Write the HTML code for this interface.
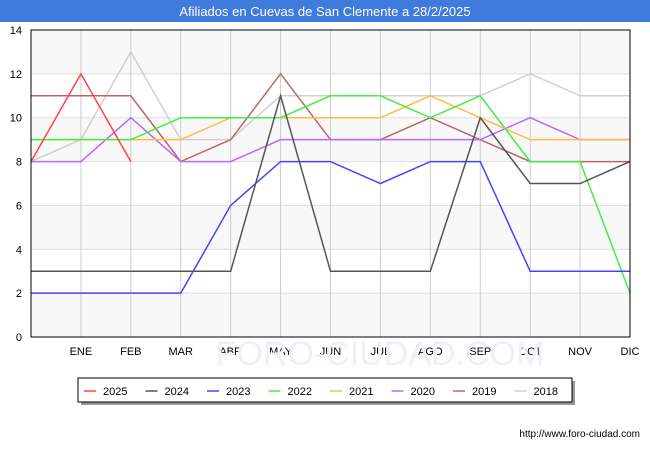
<!DOCTYPE html>
<html><head><meta charset="utf-8"><style>
body{margin:0;width:650px;height:450px;background:#fff;font-family:"Liberation Sans",sans-serif;overflow:hidden}
</style></head><body>
<svg width="650" height="450" xmlns="http://www.w3.org/2000/svg">
<rect x="0" y="0" width="650" height="22" fill="#3f7bdc"/>
<text x="325" y="16" text-anchor="middle" fill="#fff" font-size="13">Afiliados en Cuevas de San Clemente a 28/2/2025</text>
<g id="bands"></g><g id="grid"></g><g id="series"></g>
<rect x="31" y="30" width="599" height="307" fill="none" stroke="#000"/>
<g id="ylab" font-size="11" fill="#000"></g><g id="xlab" font-size="11" fill="#000"></g>
<text x="380" y="365" text-anchor="middle" font-size="34" fill="#eef0f8">FORO-CIUDAD.COM</text>
<rect x="81" y="381" width="494" height="24" fill="#999"/>
<rect x="78" y="378" width="494" height="24" fill="#fff" stroke="#000"/>
<g id="legend" font-size="11"></g>
<text x="640" y="437" text-anchor="end" font-size="10" fill="#000">http://www.foro-ciudad.com</text>
</svg>
<script>
const months=["","ENE","FEB","MAR","ABR","MAY","JUN","JUL","AGO","SEP","OCT","NOV","DIC"];
const yTicks=[0,2,4,6,8,10,12,14];
const years=["2025","2024","2023","2022","2021","2020","2019","2018"];
const colors=["#ff4444","#555555","#4444ff","#44ee44","#ffbb44","#bb66ff","#bb6666","#d0d0d0"];
const s2025=[8,12,8];
const s2024=[3,3,3,3,3,11,3,3,3,10,7,7,8];
const s2023=[2,2,2,2,6,8,8,7,8,8,3,3,3];
const s2022=[9,9,9,10,10,10,11,11,10,11,8,8,2];
const s2021=[9,9,9,9,10,10,10,10,11,10,9,9,9];
const s2020=[8,8,10,8,8,9,9,9,9,9,10,9,9];
const s2019=[11,11,11,8,9,12,9,9,10,9,8,8,8];
const s2018=[8,9,13,9,9,11,11,11,11,11,12,11,11];
const NS="http://www.w3.org/2000/svg";
const X=i=>31+i*599/12, Y=v=>337-v*307/14;
function mk(t,p,a){const e=document.createElementNS(NS,t);for(const k in a)e.setAttribute(k,a[k]);p.appendChild(e);return e;}
const bands=document.getElementById('bands'),grid=document.getElementById('grid');
for(let v=0;v<14;v+=2){const r=mk('rect',bands,{x:31,y:Y(v+2),width:599,height:Y(v)-Y(v+2),fill:(v/2)%2==0?'#f8f8f8':'#ffffff'});

}
yTicks.forEach(v=>{const l=mk('line',grid,{x1:31,x2:630,y1:Y(v),y2:Y(v),stroke:'#dddddd'});


const t=mk('text',document.getElementById('ylab'),{x:22,y:Y(v)+4,'text-anchor':'end'});t.textContent=v;

});
months.forEach((m,i)=>{const l=mk('line',grid,{x1:X(i),x2:X(i),y1:30,y2:337,stroke:'#cccccc'});


const t=mk('text',document.getElementById('xlab'),{x:X(i),y:355,'text-anchor':'middle'});t.textContent=m;

});
const data=[s2025,s2024,s2023,s2022,s2021,s2020,s2019,s2018];
const sg=document.getElementById('series');
for(let k=data.length-1;k>=0;k--){const p=mk('polyline',sg,{points:data[k].map((v,i)=>X(i)+','+Y(v)).join(' '),fill:'none',stroke:colors[k],'stroke-width':1.5});

}
const lg=document.getElementById('legend');
years.forEach((y,k)=>{const x0=84+k*61.5;
const g=mk('g',lg,{});


mk('line',g,{x1:x0,x2:x0+12,y1:391,y2:391,stroke:colors[k],'stroke-width':1.5});
const t=mk('text',g,{x:x0+19,y:395});t.textContent=y;});
</script>
</body></html>
